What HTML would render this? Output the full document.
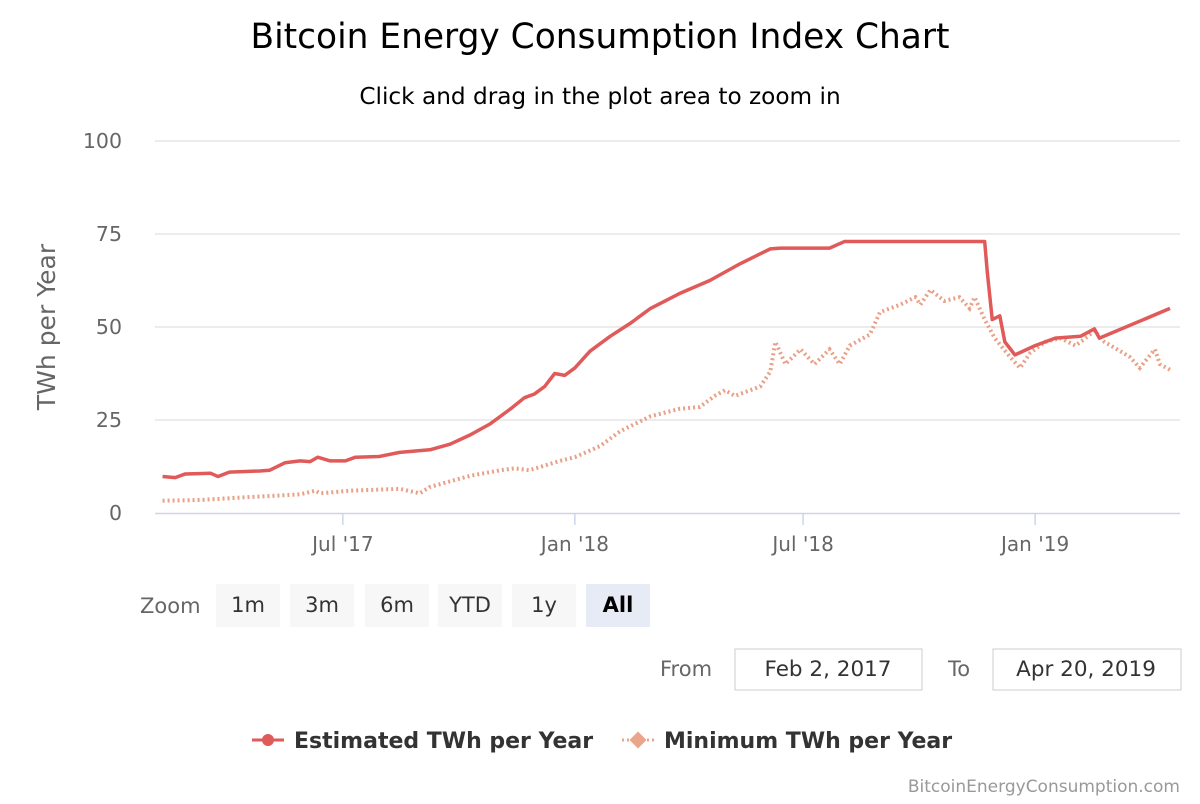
<!DOCTYPE html>
<html><head><meta charset="utf-8"><style>
body{margin:0;background:#fff;font-family:"DejaVu Sans","Liberation Sans",sans-serif;}
svg text{font-family:"DejaVu Sans","Liberation Sans",sans-serif;}
</style></head><body>
<svg id="chart" width="1200" height="800" xmlns="http://www.w3.org/2000/svg">
<rect width="1200" height="800" fill="#fff"/>
<text x="600" y="48" text-anchor="middle" font-size="34.4" fill="#000">Bitcoin Energy Consumption Index Chart</text>
<text x="600" y="104" text-anchor="middle" font-size="23.2" fill="#000">Click and drag in the plot area to zoom in</text>
<text transform="translate(55,327) rotate(-90)" text-anchor="middle" font-size="25" fill="#666">TWh per Year</text>
<g id="grid"></g><g id="xaxis"></g>
<g id="series"></g>
<text x="140" y="613" font-size="21" fill="#666">Zoom</text>
<g id="btns"></g>
<text x="660" y="676" font-size="21" fill="#666">From</text>
<rect x="735" y="649" width="187" height="41" fill="#fff" stroke="#ccc"/>
<text x="828" y="676" text-anchor="middle" font-size="21.5" fill="#333">Feb 2, 2017</text>
<text x="948" y="676" font-size="21" fill="#666">To</text>
<rect x="993" y="649" width="188" height="41" fill="#fff" stroke="#ccc"/>
<text x="1086" y="676" text-anchor="middle" font-size="21.5" fill="#333">Apr 20, 2019</text>
<g>
<line x1="252" y1="740" x2="284" y2="740" stroke="#e05a5a" stroke-width="3"/><circle cx="268" cy="740" r="6" fill="#e05a5a"/>
<text x="294" y="748" font-size="22" font-weight="bold" fill="#333">Estimated TWh per Year</text></g>
<g>
<line x1="622" y1="740" x2="654" y2="740" stroke="#eba58a" stroke-width="3" stroke-dasharray="2,3"/><rect x="632" y="734" width="12" height="12" transform="rotate(45 638 740)" fill="#eba58a"/>
<text x="664" y="748" font-size="22" font-weight="bold" fill="#333">Minimum TWh per Year</text></g>
<text x="1180" y="792" text-anchor="end" font-size="17" fill="#999">BitcoinEnergyConsumption.com</text>
</svg>
<script>
const yTicks=[0,25,50,75,100];
const xTickLabels=["Jul '17","Jan '18","Jul '18","Jan '19"];
const xTickDays=[149,333,514,698];
const estDays=[6,16,24,44,50,59,83,91,103,115,123,129,139,151,159,178,194,218,234,250,266,282,293,301,309,317,325,333,345,361,377,393,416,440,464,488,496,535,547,658,660,664,670,674,682,698,714,734,745,749,805];
const estVals=[9.8,9.5,10.5,10.7,9.8,11,11.3,11.5,13.5,14,13.8,15,14,14,15,15.2,16.3,17,18.5,21,24,28,31,32,34,37.5,37,39,43.5,47.5,51,55,59,62.5,67,71,71.2,71.2,73,73,65,52,53,46,42.5,45,47,47.5,49.5,47,55];
const minDays=[6,36,75,115,127,131,155,194,210,218,250,274,285,297,321,333,353,369,393,416,432,444,452,460,480,488,492,500,512,523,535,543,551,567,575,591,603,607,615,626,638,646,650,658,666,678,686,694,706,718,730,738,745,753,773,781,793,797,805];
const minVals=[3.3,3.5,4.3,5,6,5.3,6,6.5,5.3,7,10,11.5,12,11.5,14,15,18,22,26,28,28.5,31.5,33,31.5,34,38,46,40,44,40,44,40,45,48,54,56,58,56,60,57,58,55,58,52,47,42,39,43,46,47,45,47,49,46,42,39,44,40,38.5];
const NS="http://www.w3.org/2000/svg";
const X=d=>155+d*1.2609, Y=v=>513-v*3.72;
function mk(t,a,p){const e=document.createElementNS(NS,t);for(const k in a)e.setAttribute(k,a[k]);p.appendChild(e);return e;}
const grid=document.getElementById('grid');
yTicks.forEach(v=>{
 if(v>0){const l=mk('line',{x1:155,x2:1180,y1:Y(v),y2:Y(v),stroke:'#e6e6e6','stroke-width':1.5},grid);
 
 }
 const t=mk('text',{x:122,y:Y(v)+7,'text-anchor':'end','font-size':20.5,fill:'#666'},grid);t.textContent=v;
 
 
});
const xa=document.getElementById('xaxis');
const ax=mk('line',{x1:155,x2:1180,y1:513.5,y2:513.5,stroke:'#ccd6eb','stroke-width':1.5},xa);


xTickDays.forEach((d,i)=>{
 mk('line',{x1:X(d),x2:X(d),y1:513,y2:525,stroke:'#ccd6eb','stroke-width':1.5},xa);
 const t=mk('text',{x:X(d),y:551,'text-anchor':'middle','font-size':20,fill:'#666'},xa);t.textContent=xTickLabels[i];
 
 
});
const s=document.getElementById('series');
const pm=mk('polyline',{points:minDays.map((d,i)=>X(d)+','+Y(minVals[i])).join(' '),fill:'none',stroke:'#e9a086','stroke-width':4,'stroke-dasharray':'2,3'},s);


const pe=mk('polyline',{points:estDays.map((d,i)=>X(d)+','+Y(estVals[i])).join(' '),fill:'none',stroke:'#e05a5a','stroke-width':3.5,'stroke-linejoin':'round'},s);


const btnLabels=["1m","3m","6m","YTD","1y","All"];
const bx=[216,290,365,438,512,586];
const b=document.getElementById('btns');
btnLabels.forEach((l,i)=>{
 const g=mk('g',{},b);
 
 
 const sel=l==='All';
 mk('rect',{x:bx[i],y:584,width:64,height:43,fill:sel?'#e6ebf5':'#f7f7f7'},g);
 const t=mk('text',{x:bx[i]+32,y:612,'text-anchor':'middle','font-size':21,fill:sel?'#000':'#333','font-weight':sel?'bold':'normal'},g);t.textContent=l;
});
</script>
</body></html>
